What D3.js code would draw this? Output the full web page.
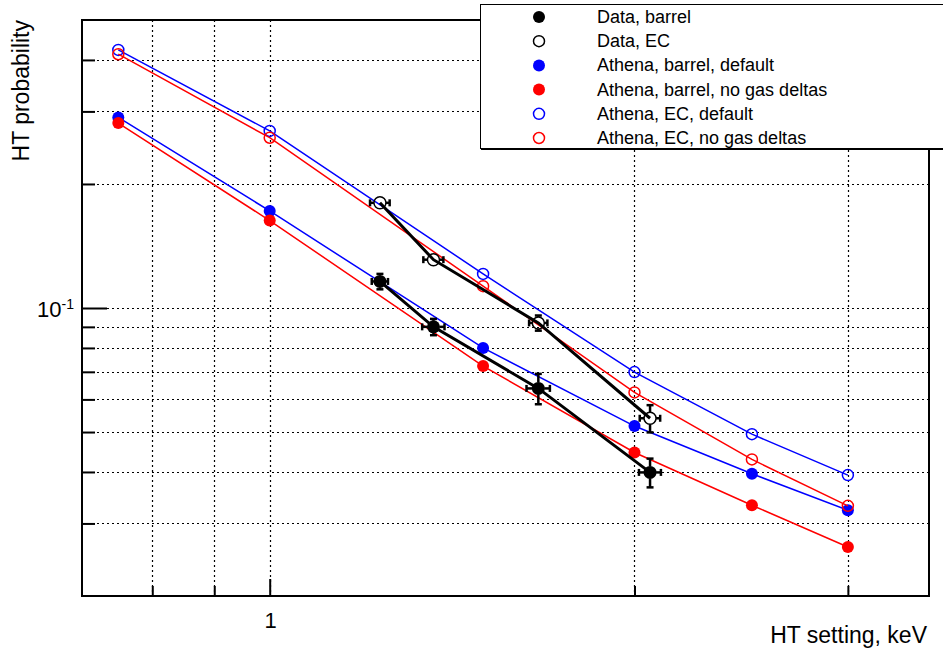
<!DOCTYPE html>
<html>
<head>
<meta charset="utf-8">
<script src="https://cdn.jsdelivr.net/npm/d3@7"></script>
<style>
  body { margin: 0; background: #fff; }
  svg { display: block; font-family: "Liberation Sans", Arial, sans-serif; }
</style>
</head>
<body>
<div id="chart"></div>
<script>
// HT probability vs HT setting
const athenaX = [0.75, 1.0, 1.5, 2.0, 2.5, 3.0];
const athenaBarrelDefault = [0.290, 0.172, 0.080, 0.0517, 0.0396, 0.0323];
const athenaBarrelNoDeltas = [0.281, 0.163, 0.0723, 0.0446, 0.0332, 0.0263];
const athenaEcDefault = [0.423, 0.269, 0.121, 0.0699, 0.0494, 0.0393];
const athenaEcNoDeltas = [0.413, 0.259, 0.113, 0.0624, 0.0429, 0.0331];

const dataX = [1.233, 1.365, 1.666, 2.06];
const dataBarrel = [0.116, 0.090, 0.0638, 0.0399];
const dataBarrelYErr = [0.005, 0.0041, 0.0054, 0.0032];
const dataBarrelXErr = [0.019, 0.029, 0.037, 0.043];
const dataEc = [0.180, 0.131, 0.092, 0.054];
const dataEcYErr = [0.004, 0.003, 0.0039, 0.0041];
const dataEcXErr = [0.023, 0.026, 0.029, 0.040];

const xGrid = [0.8, 0.9, 1, 2, 3];
const yMinor = [0.03, 0.04, 0.05, 0.06, 0.07, 0.08, 0.09, 0.2, 0.3, 0.4];
const yMajor = [0.1];
const legendLabels = [
  "Data, barrel",
  "Data, EC",
  "Athena, barrel, default",
  "Athena, barrel, no gas deltas",
  "Athena, EC, default",
  "Athena, EC, no gas deltas",
];

const width = 943, height = 650;
const margin = { top: 20, right: 14, bottom: 54, left: 82 };

const svg = d3.select("#chart").append("svg")
  .attr("width", width)
  .attr("height", height);

const x = d3.scaleLog().domain([0.7, 3.5]).range([margin.left, width - margin.right]);
const y = d3.scaleLog().domain([0.02, 0.5]).range([height - margin.bottom, margin.top]);

const plotW = width - margin.right - margin.left;
const plotH = height - margin.bottom - margin.top;

// grid
const grid = svg.append("g")
  .attr("stroke", "#000")
  .attr("stroke-width", 1.2)
  .attr("stroke-dasharray", "2,3");

grid.selectAll(".vgrid")
  .data(xGrid)
  .join("line")
  .attr("x1", (d) => Math.round(x(d)) + 0.5)
  .attr("x2", (d) => Math.round(x(d)) + 0.5)
  .attr("y1", margin.top)
  .attr("y2", height - margin.bottom);

grid.selectAll(".hgrid")
  .data(yMinor.concat(yMajor))
  .join("line")
  .attr("x1", margin.left)
  .attr("x2", width - margin.right)
  .attr("y1", (d) => Math.round(y(d)) + 0.5)
  .attr("y2", (d) => Math.round(y(d)) + 0.5);

// ticks (inside the frame, ROOT style)
function styleAxis(g) {
  g.select(".domain").remove();
  g.selectAll(".tick line").attr("stroke", "#000").attr("stroke-width", 2);
}

svg.append("g")
  .attr("transform", `translate(${margin.left},0)`)
  .call(d3.axisLeft(y).tickValues(yMinor).tickSize(-13).tickFormat(""))
  .call(styleAxis);

svg.append("g")
  .attr("transform", `translate(${margin.left},0)`)
  .call(d3.axisLeft(y).tickValues(yMajor).tickSize(-25).tickFormat(""))
  .call(styleAxis);

svg.append("g")
  .attr("transform", `translate(0,${height - margin.bottom})`)
  .call(d3.axisBottom(x).tickValues(xGrid.filter((d) => d !== 1)).tickSize(-10).tickFormat(""))
  .call(styleAxis);

svg.append("g")
  .attr("transform", `translate(0,${height - margin.bottom})`)
  .call(d3.axisBottom(x).tickValues([1]).tickSize(-17).tickFormat(""))
  .call(styleAxis);

// frame
svg.append("rect")
  .attr("x", margin.left)
  .attr("y", margin.top)
  .attr("width", plotW)
  .attr("height", plotH)
  .attr("fill", "none")
  .attr("stroke", "#000")
  .attr("stroke-width", 2);

// tick labels
svg.append("text")
  .attr("x", x(1) + 1)
  .attr("y", 628)
  .attr("text-anchor", "middle")
  .attr("font-size", 22)
  .text("1");

const yLab = svg.append("text")
  .attr("x", 74)
  .attr("y", y(0.1) + 9)
  .attr("text-anchor", "end")
  .attr("font-size", 22);
yLab.append("tspan").text("10");
yLab.append("tspan").attr("font-size", 14).attr("dy", -8).text("-1");

// axis titles
svg.append("text")
  .attr("transform", `translate(29,${margin.top}) rotate(-90)`)
  .attr("text-anchor", "end")
  .attr("font-size", 23)
  .text("HT probability");

svg.append("text")
  .attr("x", 927)
  .attr("y", 643)
  .attr("text-anchor", "end")
  .attr("font-size", 23)
  .text("HT setting, keV");

// Athena series
const athenaSeries = [
  { values: athenaBarrelDefault, color: "#0000ff", open: false },
  { values: athenaBarrelNoDeltas, color: "#ff0000", open: false },
  { values: athenaEcDefault, color: "#0000ff", open: true },
  { values: athenaEcNoDeltas, color: "#ff0000", open: true },
];

const line = d3.line().x((d) => x(d[0])).y((d) => y(d[1]));

athenaSeries.forEach((s) => {
  const pts = athenaX.map((xv, i) => [xv, s.values[i]]);
  const g = svg.append("g");
  g.append("path")
    .attr("d", line(pts))
    .attr("fill", "none")
    .attr("stroke", s.color)
    .attr("stroke-width", 1.5);
  g.selectAll("circle")
    .data(pts)
    .join("circle")
    .attr("cx", (d) => x(d[0]))
    .attr("cy", (d) => y(d[1]))
    .attr("r", s.open ? 5.5 : 6)
    .attr("fill", s.open ? "none" : s.color)
    .attr("stroke", s.open ? s.color : "none")
    .attr("stroke-width", 1.5);
});

// Data series with error bars
const dataSeries = [
  { values: dataBarrel, yErr: dataBarrelYErr, xErr: dataBarrelXErr, open: false },
  { values: dataEc, yErr: dataEcYErr, xErr: dataEcXErr, open: true },
];

const markerR = 6;
const cap = 3.5;

dataSeries.forEach((s) => {
  const pts = dataX.map((xv, i) => ({ x: xv, y: s.values[i], ex: s.xErr[i], ey: s.yErr[i] }));
  const g = svg.append("g");
  g.append("path")
    .attr("d", line(pts.map((d) => [d.x, d.y])))
    .attr("fill", "none")
    .attr("stroke", "#000")
    .attr("stroke-width", 3);

  const bars = g.append("g").attr("stroke", "#000").attr("stroke-width", 2.5);
  pts.forEach((d) => {
    const cx = x(d.x), cy = y(d.y);
    const xl = x(d.x - d.ex), xr = x(d.x + d.ex);
    const yt = y(d.y + d.ey), yb = y(d.y - d.ey);
    if (cx - xl > markerR) {
      bars.append("line").attr("x1", xl).attr("x2", cx - markerR).attr("y1", cy).attr("y2", cy);
      bars.append("line").attr("x1", xr).attr("x2", cx + markerR).attr("y1", cy).attr("y2", cy);
    }
    bars.append("line").attr("x1", xl).attr("x2", xl).attr("y1", cy - cap).attr("y2", cy + cap);
    bars.append("line").attr("x1", xr).attr("x2", xr).attr("y1", cy - cap).attr("y2", cy + cap);
    if (yb - cy > markerR) {
      bars.append("line").attr("x1", cx).attr("x2", cx).attr("y1", yt).attr("y2", cy - markerR);
      bars.append("line").attr("x1", cx).attr("x2", cx).attr("y1", yb).attr("y2", cy + markerR);
      bars.append("line").attr("x1", cx - cap).attr("x2", cx + cap).attr("y1", yt).attr("y2", yt);
      bars.append("line").attr("x1", cx - cap).attr("x2", cx + cap).attr("y1", yb).attr("y2", yb);
    }
  });

  g.selectAll("circle")
    .data(pts)
    .join("circle")
    .attr("cx", (d) => x(d.x))
    .attr("cy", (d) => y(d.y))
    .attr("r", s.open ? 6 : 6.5)
    .attr("fill", s.open ? "none" : "#000")
    .attr("stroke", s.open ? "#000" : "none")
    .attr("stroke-width", 1.5);
});

// legend
const legendStyles = [
  { color: "#000", open: false },
  { color: "#000", open: true },
  { color: "#0000ff", open: false },
  { color: "#ff0000", open: false },
  { color: "#0000ff", open: true },
  { color: "#ff0000", open: true },
];

const legend = svg.append("g");
legend.append("rect")
  .attr("x", 480.5)
  .attr("y", 4.5)
  .attr("width", 480)
  .attr("height", 144)
  .attr("fill", "#fff")
  .attr("stroke", "#000")
  .attr("stroke-width", 1);
legend.append("line")
  .attr("x1", 481)
  .attr("x2", width)
  .attr("y1", 149.5)
  .attr("y2", 149.5)
  .attr("stroke", "#000")
  .attr("stroke-width", 1);

const rows = legend.selectAll(".row")
  .data(legendLabels)
  .join("g")
  .attr("transform", (d, i) => `translate(0,${17 + i * 24.2})`);

rows.append("circle")
  .attr("cx", 539)
  .attr("cy", 0)
  .attr("r", (d, i) => (legendStyles[i].open ? 5.5 : 6))
  .attr("fill", (d, i) => (legendStyles[i].open ? "none" : legendStyles[i].color))
  .attr("stroke", (d, i) => (legendStyles[i].open ? legendStyles[i].color : "none"))
  .attr("stroke-width", 1.5);

rows.append("text")
  .attr("x", 597)
  .attr("y", 6)
  .attr("font-size", 18)
  .text((d) => d);
</script>
</body>
</html>
